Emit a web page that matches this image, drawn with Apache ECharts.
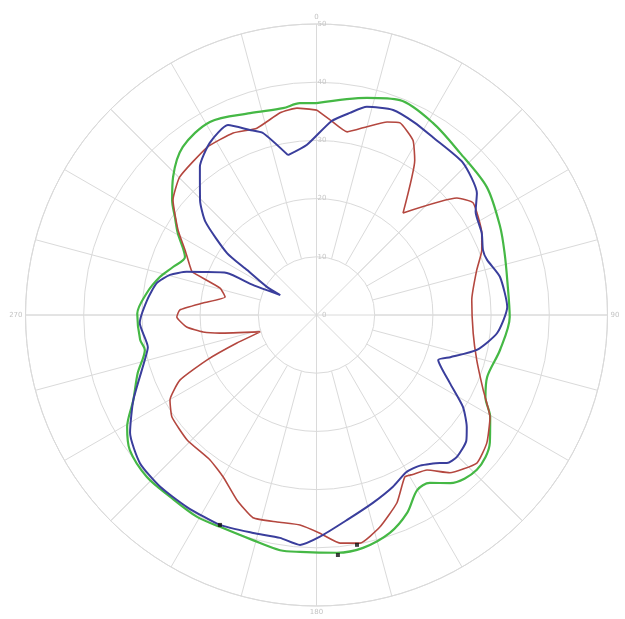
<!DOCTYPE html>
<html>
<head>
<meta charset="utf-8">
<script src="https://cdn.jsdelivr.net/npm/echarts@6/dist/echarts.min.js"></script>
<style>html,body{margin:0;padding:0;background:#fff}#c{width:625px;height:619px}</style>
</head>
<body>
<div id="c"></div>
<script>
// Angle ticks / radial ticks
const angleLabels = [0, 90, 180, 270];
const radiusTicks = [0, 10, 20, 30, 40, 50];

// Green trace (angle in degrees, radius value)
const greenAngles = [0, 13.1, 21.2, 31.2, 41.5, 53.1, 64.4, 72, 80, 90.6, 100.8, 110, 116, 120.4, 126.4, 134, 141.5, 146, 150.1, 155.4, 161.4, 168.7, 175.1, 184, 188.8, 195.8, 204.5, 210.6, 218.8, 226.3, 234.1, 239.4, 245.1, 252, 258.5, 262, 270.4, 277.4, 283.6, 288.5, 293.8, 300.6, 304.7, 308.5, 313.9, 321.5, 331.1, 341.8, 350.8, 355.5, 360];
const greenValues = [36.4, 38.3, 39.6, 38.6, 37.2, 36.6, 35.0, 34.0, 33.3, 33.2, 32.1, 31.2, 32.3, 34.6, 37.0, 38.3, 36.9, 34.8, 34.7, 37.4, 39.5, 40.8, 41.0, 40.8, 40.9, 40.2, 40.0, 40.3, 40.1, 40.3, 39.6, 37.8, 34.7, 32.3, 30.1, 30.6, 30.8, 29.4, 27.7, 26.0, 24.7, 27.7, 29.6, 31.7, 34.2, 36.9, 37.9, 36.5, 36.0, 36.5, 36.4];

// Blue trace
const blueAngles = [349.9, 356.8, 4.4, 9.4, 13.6, 20.5, 27, 33.2, 43.9, 52.8, 57, 63.6, 68.7, 72.1, 78.3, 87.6, 95.7, 102.3, 107.5, 110.3, 117, 122.1, 126.7, 130, 135.3, 138.6, 140.2, 145.5, 150.2, 156, 163.3, 171.5, 179.1, 184.1, 189.3, 196.2, 204.7, 214, 222.3, 230, 237.7, 245.1, 255.3, 259.2, 267.4, 275.1, 281.3, 285.3, 288.4, 290.7, 295.1, 295.3, 298.7, 299.5, 302.9, 304.7, 310, 314.6, 321.8, 328.2, 335, 340.2, 343.6, 349.9];
const blueValues = [27.9, 29.3, 33.4, 35.2, 36.8, 37.6, 37.1, 36.5, 36.3, 34.6, 32.6, 31.7, 30.7, 30.8, 32.2, 32.8, 31.2, 28.2, 24.1, 22.3, 25.7, 29.7, 32.2, 33.6, 34.3, 33.9, 33.1, 31.4, 31.1, 32.3, 33.7, 35.6, 38.1, 39.6, 38.8, 39.0, 39.7, 39.8, 39.9, 39.6, 37.9, 34.7, 30.5, 29.5, 30.4, 29.2, 28.0, 26.1, 23.5, 20.9, 17.0, 12.1, 7.1, 9.8, 14.2, 18.7, 24.9, 28.1, 32.4, 34.8, 36.0, 33.8, 32.6, 27.9];

// Red trace
const redAngles = [0.1, 4, 9.5, 15, 20.1, 23.5, 28.9, 32.4, 40.3, 50.2, 54.4, 63.6, 68.6, 74.3, 84.5, 96.6, 105.7, 114.2, 120.5, 126.9, 132.7, 139.8, 144.5, 148.9, 151.4, 156.8, 163.3, 169.2, 174.1, 179.1, 184.5, 190.8, 197.4, 203.3, 210, 216.3, 226, 234.8, 239.9, 244.5, 247.7, 250.6, 253.3, 259.4, 261.5, 264.7, 269.2, 272.1, 276, 281.1, 285.6, 289.1, 290.8, 296.3, 301.5, 308.7, 315.3, 326.9, 335.4, 342.3, 349.8, 354.6, 360.1];
const redValues = [35.2, 33.6, 31.9, 33.5, 35.3, 36.0, 34.3, 31.5, 23.0, 31.4, 33.1, 31.7, 30.5, 28.6, 26.8, 27.1, 28.6, 31.4, 34.6, 36.6, 37.5, 35.5, 32.7, 32.0, 31.7, 35.1, 38.0, 39.9, 39.4, 37.5, 36.2, 36.2, 36.5, 34.6, 32.1, 30.9, 30.9, 30.4, 29.1, 26.0, 20.3, 14.5, 10.1, 16.9, 19.7, 22.4, 24.0, 23.5, 19.6, 16.0, 17.2, 22.6, 23.2, 25.2, 27.9, 31.6, 33.4, 34.4, 34.4, 33.7, 35.3, 35.7, 35.2];

// Black marker points
const markerAngles = [204.7, 174.9, 170];
const markerValues = [39.7, 41.4, 40.1];

const pairs = (vals, angs) => vals.map((v, i) => [v, angs[i]]);

const gridColor = '#dadada';
const chart = echarts.init(document.getElementById('c'), null, {renderer: 'canvas'});
chart.setOption({
  animation: false,
  backgroundColor: '#ffffff',
  polar: [
    {center: [316.5, 315], radius: [0, 291]},
    {center: [316.5, 315], radius: [58.2, 291]}
  ],
  angleAxis: [
    {
      polarIndex: 0, type: 'value', min: 0, max: 360, interval: 45,
      startAngle: 90, clockwise: true,
      axisLine: {show: true, lineStyle: {color: gridColor, width: 1}},
      axisTick: {show: false},
      axisLabel: {
        color: '#c4c4c4', fontSize: 7, margin: 3, fontFamily: 'DejaVu Sans',
        formatter: v => angleLabels.indexOf(v) >= 0 ? String(v) : ''
      },
      splitLine: {show: true, lineStyle: {color: gridColor, width: 1}}
    },
    {
      polarIndex: 1, type: 'value', min: 0, max: 360, interval: 15,
      startAngle: 90, clockwise: true,
      axisLine: {show: false}, axisTick: {show: false}, axisLabel: {show: false},
      splitLine: {show: true, lineStyle: {color: gridColor, width: 1}}
    }
  ],
  radiusAxis: [
    {
      polarIndex: 0, type: 'value', min: radiusTicks[0], max: radiusTicks[radiusTicks.length - 1], interval: 10,
      axisLine: {show: false}, axisTick: {show: false},
      axisLabel: {color: '#c8c8c8', fontSize: 7, fontFamily: 'DejaVu Sans', margin: -10},
      splitLine: {show: true, lineStyle: {color: gridColor, width: 1}}
    },
    {polarIndex: 1, type: 'value', min: 0, max: 50, show: false}
  ],
  series: [
    {type: 'line', coordinateSystem: 'polar', polarIndex: 0, showSymbol: false, smooth: 0.3,
     data: pairs(greenValues, greenAngles), lineStyle: {color: '#45b845', width: 2.2}, z: 3},
    {type: 'line', coordinateSystem: 'polar', polarIndex: 0, showSymbol: false, smooth: 0.15,
     data: pairs(redValues, redAngles), lineStyle: {color: '#b4473f', width: 1.6}, z: 4},
    {type: 'line', coordinateSystem: 'polar', polarIndex: 0, showSymbol: false, smooth: 0.2,
     data: pairs(blueValues, blueAngles), lineStyle: {color: '#3a3e9c', width: 2}, z: 5},
    {type: 'scatter', coordinateSystem: 'polar', polarIndex: 0, symbol: 'rect', symbolSize: 4,
     data: pairs(markerValues, markerAngles), itemStyle: {color: '#111'}, z: 6}
  ]
});
</script>
</body>
</html>
